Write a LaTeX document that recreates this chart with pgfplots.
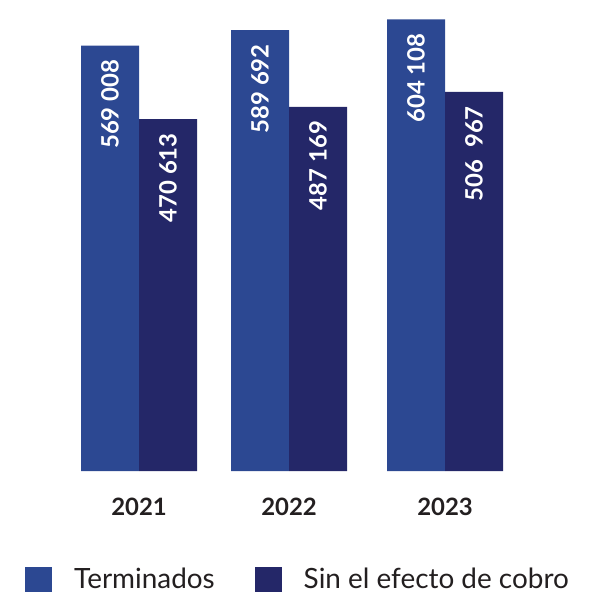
\documentclass[border=0pt]{standalone}
\usepackage{pgfplots}
\pgfplotsset{compat=1.18}
\usepackage{fontspec}
\setmainfont{Lato}
\definecolor{cTerm}{RGB}{44,72,146}
\definecolor{cSin}{RGB}{36,39,104}
\definecolor{cText}{RGB}{35,31,32}
\begin{document}
\begin{tikzpicture}[x=1bp,y=1bp]
\begin{axis}[
  at={(0,0)}, anchor=north west,
  scale only axis, width=595bp, height=471bp,
  xmin=-0.9267, xmax=3.04, ymin=0, ymax=630000,
  ybar=0pt, bar width=58bp,
  axis line style={draw=none}, tick style={draw=none},
  ytick=\empty,
  xtick={0,1,2.04}, xticklabels={2021,2022,2023},
  xticklabel style={font=\fontsize{24}{24}\selectfont\bfseries, text=cText, inner sep=0pt, yshift=-23bp},
  point meta=explicit symbolic,
  nodes near coords,
  nodes near coords style={font=\fontsize{24}{24}\selectfont\bfseries, text=white, anchor=east, rotate=90, inner xsep=14bp, inner ysep=0pt},
  legend columns=2,
  legend style={draw=none, at={(rel axis cs:0.042,-0.2295)}, anchor=west, inner sep=0pt,
    font=\fontsize{28}{28}\selectfont, text=cText,
    nodes={inner xsep=0pt},
    /tikz/every even column/.append style={column sep=40bp}},
  legend image code/.code={\fill[#1,draw=none] (0bp,-12.5bp) rectangle (27bp,12.5bp); \path[draw=none,fill=none] (27bp,0) -- (49bp,0);},
]
\addplot[fill=cTerm, draw=none] coordinates {(0,569008) [569 008] (1,589692) [589 692] (2.04,604108) [604 108]};
\addplot[fill=cSin, draw=none] coordinates {(0,470613) [470 613] (1,487169) [487 169] (2.04,506967) [506\ \ 967]};
\legend{Terminados, Sin el efecto de cobro}
\end{axis}
\pgfresetboundingbox
\path (0,0) rectangle (595bp,-594bp);
\end{tikzpicture}
\end{document}
